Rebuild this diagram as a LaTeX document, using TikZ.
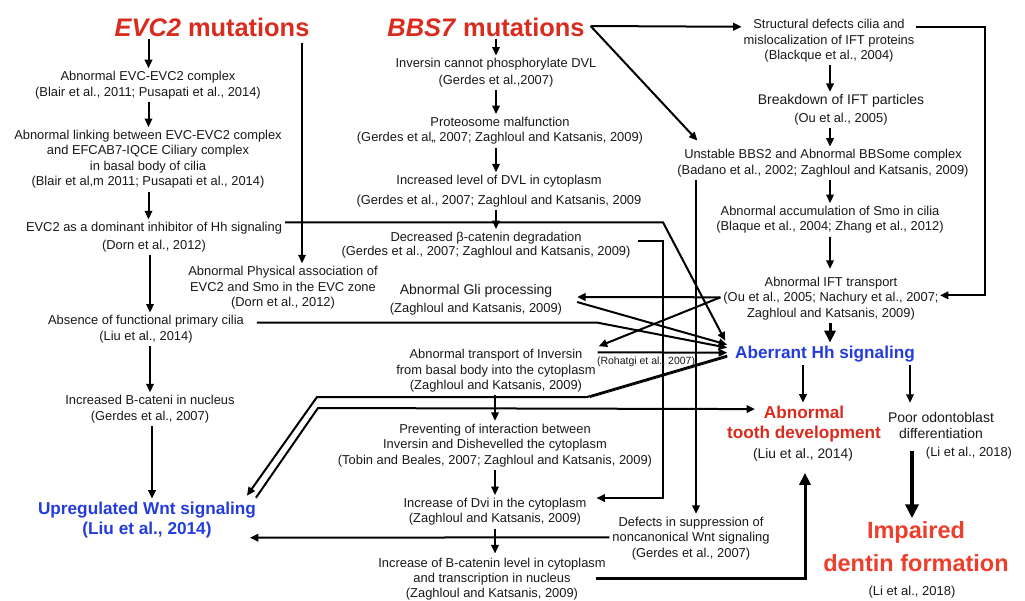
\documentclass[tikz,border=0pt]{standalone}
\usepackage{fontspec}
\setmainfont{Liberation Sans}
\usetikzlibrary{arrows.meta,calc}
\definecolor{tred}{RGB}{217,43,30}
\definecolor{ored}{RGB}{236,62,42}
\definecolor{hblue}{RGB}{35,60,220}
\definecolor{txt}{RGB}{25,25,25}
\begin{document}
\begin{tikzpicture}[x=1pt,y=-1pt,
  every node/.style={inner sep=3pt, outer sep=0pt, text=txt},
  lbl/.style={align=center, font=\fontsize{12.9}{15.5}\selectfont},
  smalllbl/.style={font=\fontsize{10.5}{12}\selectfont},
  ttl/.style={font=\fontsize{25.4}{30}\selectfont\bfseries, text=tred},
  blu/.style={align=center, font=\fontsize{17.2}{20}\selectfont\bfseries, text=hblue},
  conn/.style={line width=2pt, draw=black},
  arr/.style={conn, -{Triangle[length=8.5pt,width=7.5pt]}},
  bigarr/.style={line width=3pt, draw=black, -{Triangle[length=12pt,width=11pt]}},
]
\fill[white] (0,0) rectangle (1025,600);
\useasboundingbox (0,0) rectangle (1025,600);

% ---------- column helpers ----------
\coordinate (cL) at (148.5,0);
\coordinate (cL2) at (150,0);
\coordinate (cW) at (152,0);
\coordinate (cE4) at (302,0);
\coordinate (cM) at (496,0);
\coordinate (cM2) at (495,0);
\coordinate (cR) at (830,0);
\coordinate (cN) at (696,0);
\coordinate (cT) at (803,0);
\coordinate (cP) at (910,0);
\coordinate (cD) at (912,0);

% ---------- titles ----------
\node[ttl] (evc2t) at (212,27) {\textit{EVC2} mutations};
\node[ttl] (bbs7t) at (486,27) {\textit{BBS7} mutations};

% ---------- left column ----------
\node[lbl] (e1) at (148,85) {Abnormal EVC-EVC2 complex\\(Blair et al., 2011; Pusapati et al., 2014)};
\node[lbl] (e2) at (148,159.3) {Abnormal linking between EVC-EVC2 complex\\and EFCAB7-IQCE Ciliary complex\\in basal body of cilia\\(Blair et al,m 2011; Pusapati et al., 2014)};
\node[lbl] (e3) at (154,237.3) {EVC2 as a dominant inhibitor of Hh signaling\\[2.5pt](Dorn et al., 2012)};
\node[lbl] (e4) at (283,287.8) {Abnormal Physical association of\\EVC2 and Smo in the EVC zone\\(Dorn et al., 2012)};
\node[lbl] (e5) at (146,329.3) {Absence of functional primary cilia\\(Liu et al., 2014)};
\node[lbl] (e6) at (150,409.3) {Increased B-cateni in nucleus\\[0.5pt](Gerdes et al., 2007)};
\node[blu] (wnt) at (147,519.7) {Upregulated Wnt signaling\\(Liu et al., 2014)};

% ---------- middle column ----------
\node[lbl] (b1) at (496,72.8) {Inversin cannot phosphorylate DVL\\[1pt](Gerdes et al.,2007)};
\node[lbl] (b2) at (500,130.8) {Proteosome malfunction\\(Gerdes et al,, 2007; Zaghloul and Katsanis, 2009)};
\node[lbl] (b3) at (499,191.3) {Increased level of DVL in cytoplasm\\[4.5pt](Gerdes et al., 2007; Zaghloul and Katsanis, 2009};
\node[lbl] (b4) at (486,245.3) {Decreased β-catenin degradation\\[-1pt](Gerdes et al., 2007; Zaghloul and Katsanis, 2009)};
\node[lbl] (gli) at (476,300) {{\fontsize{14}{15}\selectfont Abnormal Gli processing}\\[2pt](Zaghloul and Katsanis, 2009)};
\node[lbl] (inv) at (496,370.8) {Abnormal transport of Inversin\\from basal body into the cytoplasm\\(Zaghloul and Katsanis, 2009)};
\node[smalllbl, anchor=west, inner sep=0pt] (roh) at (597,362) {(Rohatgi et al., 2007)};
\node[lbl] (prev) at (495,445.3) {Preventing of interaction between\\Inversin and Dishevelled the cytoplasm\\(Tobin and Beales, 2007; Zaghloul and Katsanis, 2009)};
\node[lbl] (dvi) at (495,511.8) {Increase of Dvi in the cytoplasm\\(Zaghloul and Katsanis, 2009)};
\node[align=center, font=\fontsize{12.9}{15}\selectfont] (bcat) at (492,579.5) {Increase of B-catenin level in cytoplasm\\and transcription in nucleus\\(Zaghloul and Katsanis, 2009)};
\node[lbl] (noncan) at (691,538.3) {Defects in suppression of\\noncanonical Wnt signaling\\(Gerdes et al., 2007)};

% ---------- right column ----------
\node[lbl] (r1) at (829,40.8) {Structural defects cilia and\\mislocalization of IFT proteins\\(Blackque et al., 2004)};
\node[lbl] (r2) at (841,110) {{\fontsize{14}{15}\selectfont Breakdown of IFT particles}\\[2pt](Ou et al., 2005)};
\node[lbl] (r3) at (823,163.3) {Unstable BBS2 and Abnormal BBSome complex\\(Badano et al., 2002; Zaghloul and Katsanis, 2009)};
\node[lbl] (r4) at (830,219.8) {Abnormal accumulation of Smo in cilia\\(Blaque et al., 2004; Zhang et al., 2012)};
\node[lbl] (r5) at (831,298.3) {Abnormal IFT transport\\(Ou et al., 2005; Nachury et al., 2007;\\Zaghloul and Katsanis, 2009)};
\node[blu] (hh) at (825,353.7) {Aberrant Hh signaling};
\node[align=center, font=\fontsize{17.2}{20}\selectfont\bfseries, text=tred] (tooth) at (804,423.7) {Abnormal\\tooth development};
\node[font=\fontsize{13.8}{16}\selectfont] (toothc) at (803,455.4) {(Liu et al., 2014)};
\node[align=center, font=\fontsize{14}{16}\selectfont] (poor) at (941,425.9) {Poor odontoblast\\differentiation};
\node[lbl] (poorc) at (969,453.3) {(Li et al., 2018)};
\node[align=center, font=\fontsize{23.5}{33}\selectfont\bfseries, text=ored] (dentin) at (916,546.4) {Impaired\\dentin formation};
\node[font=\fontsize{13}{15}\selectfont] (dentc) at (912,592.3) {(Li et al., 2018)};

% ---------- convergence points on Hh ----------
\coordinate (hA) at ($(hh.west)+(-7,-13)$);
\coordinate (hB) at ($(hh.west)+(-5,-9)$);
\coordinate (hC) at ($(hh.west)+(-5,-6)$);
\coordinate (hD) at ($(hh.west)+(-5,-1)$);
\coordinate (hE) at ($(hh.west)+(-5,2)$);

% ---------- left column connectors ----------
\draw[arr] (evc2t.south -| cL) -- (e1.north -| cL);
\draw[arr] (e1.south -| cL) -- (e2.north -| cL);
\draw[arr] (e2.south -| cL) -- (e3.north -| cL);
\draw[arr] (e3.south -| cL2) -- (e5.north -| cL2);
\draw[arr] (e5.south -| cL2) -- (e6.north -| cL2);
\draw[arr] (e6.south -| cW) -- (wnt.north -| cW);
\draw[arr] ($(evc2t.south -| cE4)+(0,4)$) -- (e4.north -| cE4);
\draw[arr] ($(e3.north east)+(0,3)$) -- ++(378,0) -- (hA);
\draw[arr] ($(e5.north east)+(10,10)$) -- ++(340,0) -- (hC);

% ---------- middle column connectors ----------
\draw[arr] (bbs7t.south -| cM) -- (b1.north -| cM);
\draw[arr] (b1.south -| cM) -- (b2.north -| cM);
\draw[arr] (b2.south -| cM) -- (b3.north -| cM);
\draw[arr] (b3.south -| cM) -- (b4.north -| cM);
\draw[arr] ($(b4.east)+(4,-4)$) -- ++(25,0) |- ($(dvi.north east)+(7,3)$);
\draw[arr] ($(r5.west)+(0,-1)$) -- ($(gli.east)+(12,-3)$);
\draw[arr] ($(gli.east)+(12,2)$) -- (hB);
\draw[arr] ($(r5.west)+(0,-1)$) -- (inv.north east);
\draw[arr] ($(inv.north east)+(-1,6)$) -- (hD);
\draw[conn] (hE) -- (587,397);
\draw[line width=1pt] ($(hE)+(0,1.5)$) -- (590,397.5);
\draw[arr] (587,397) -- (317,397) -- ($(wnt.north east)+(-12,-3)$);
\draw[arr] ($(wnt.north east)+(-3,-1)$) -- (318,408) -- ($(tooth.north)+(-49,6.4)$);
\draw[arr] (inv.south -| cM2) -- (prev.north -| cM2);
\draw[arr] (prev.south -| cM2) -- (dvi.north -| cM2);
\draw[arr] (dvi.south -| cM2) -- ($(bcat.north -| cM2)+(0,-2)$);
\draw[arr] ($(noncan.west)+(0,-1)$) -- ($(wnt.south east)+(-9,-3)$);
\draw[bigarr] ($(bcat.east)+(-13,-1)$) -| ($(toothc.south)+(2,8)$);

% ---------- right column connectors ----------
\draw[arr] ($(bbs7t.east)+(3,-1)$) -- ($(r1.north west)+(1,10.5)$);
\draw[arr] ($(bbs7t.east)+(3,-1)$) -- ($(r3.north west)+(23,-6)$);
\draw[arr] (r1.south -| cR) -- (r2.north -| cR);
\draw[arr] (r2.south -| cR) -- (r3.north -| cR);
\draw[arr] (r3.south -| cR) -- (r4.north -| cR);
\draw[arr] (r4.south -| cR) -- ($(r5.north -| cR)+(0,-5)$);
\draw[bigarr] (r5.south -| cR) -- (hh.north -| cR);
\draw[arr] ($(r1.north east)+(-1,10.5)$) -- ++(69,0) |- ($(r5.east)+(-1.6,-3)$);
\draw[arr] (r3.south -| cN) -- (noncan.north -| cN);
\draw[arr] (hh.south -| cT) -- (tooth.north -| cT);
\draw[arr] (hh.south -| cP) -- ($(poor.north -| cP)+(0,-7)$);
\draw[line width=3.5pt, -{Triangle[length=14pt,width=13pt]}] ($(poor.south -| cD)+(0,9)$) -- (dentin.north -| cD);
\end{tikzpicture}
\end{document}
